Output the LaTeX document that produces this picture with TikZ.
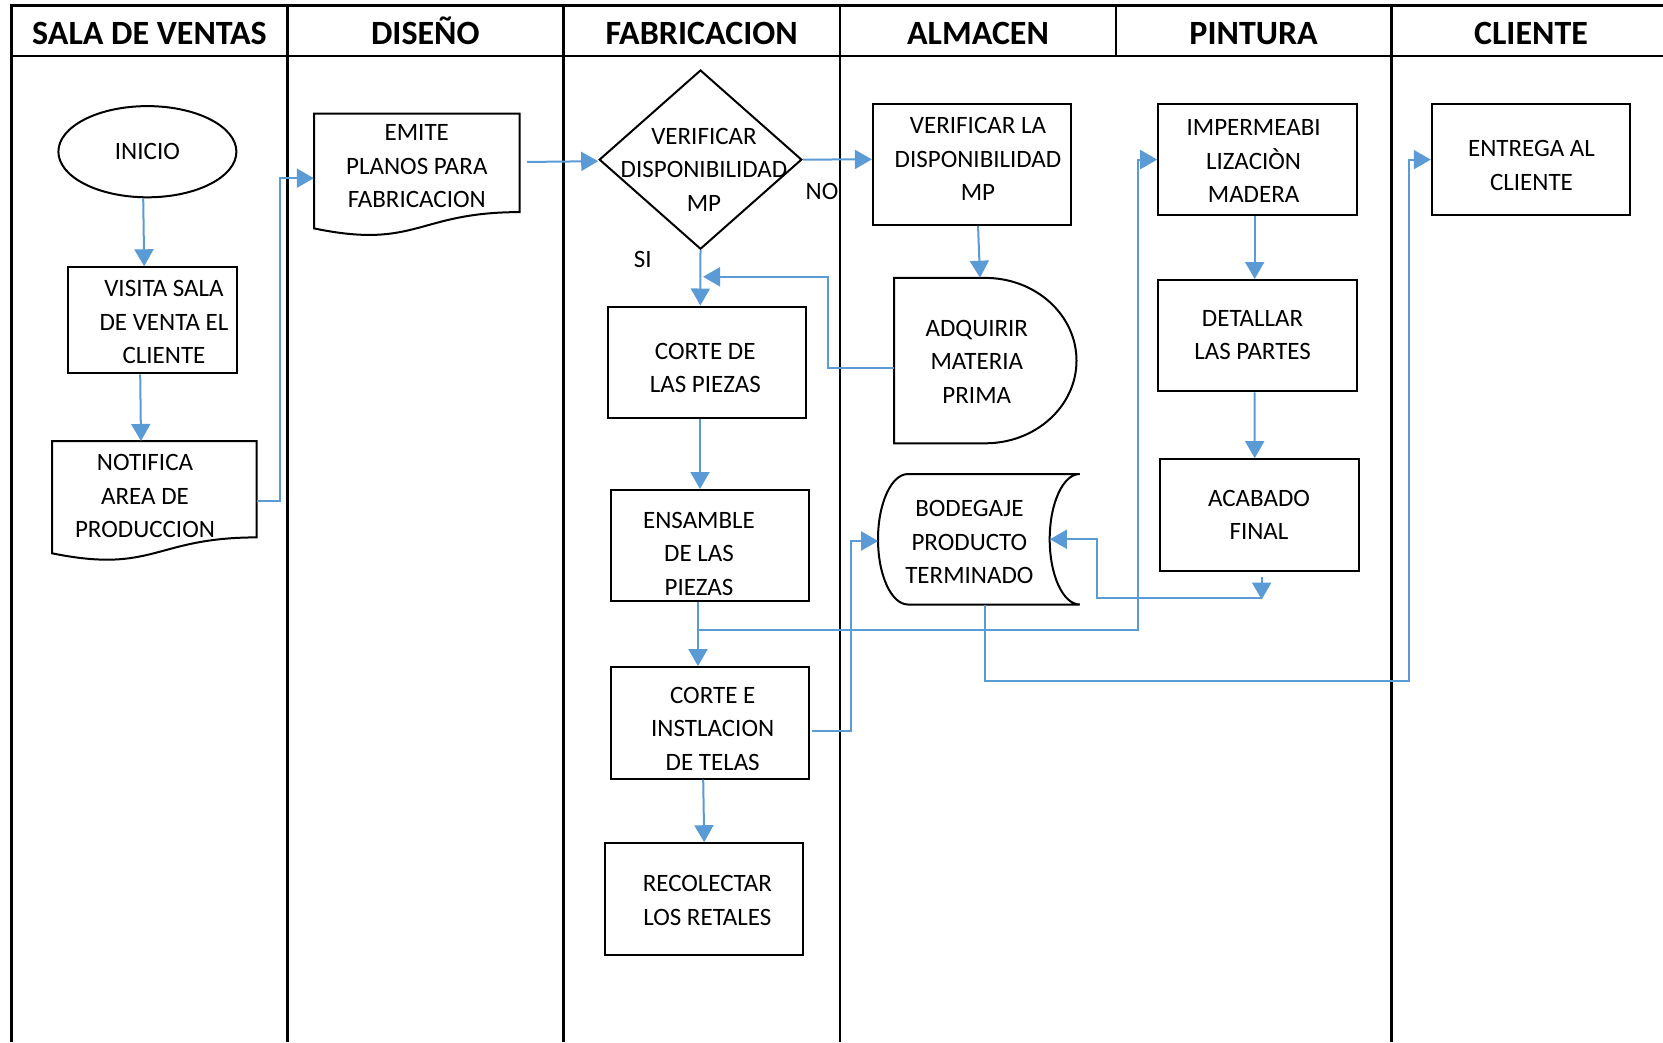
\documentclass[tikz,border=0pt]{standalone}
\usepackage{fontspec}
\setmainfont{Carlito}
\usetikzlibrary{arrows.meta,calc,shapes.geometric}
\definecolor{flowblue}{RGB}{91,155,213}
\begin{document}
\begin{tikzpicture}[x=1pt,y=-1pt,
  lane/.style={line width=2.6pt},
  box/.style={draw, line width=2pt, inner sep=0, rectangle},
  ghost/.style={inner sep=0, rectangle},
  outline/.style={line width=2pt, line join=miter},
  txt/.style={font=\fontsize{25}{33.5}\selectfont, align=center, inner sep=0},
  head/.style={font=\fontsize{34}{40}\selectfont\bfseries, inner sep=0, anchor=base},
  flow/.style={draw=flowblue, line width=2pt, -{Triangle[length=17pt,width=19pt]}},
  link/.style={draw=flowblue, line width=2pt}]

\useasboundingbox (0,0) rectangle (1663,1042);

% ---- swimlane grid ----
\draw[lane] (10.4,5.3) -- (1663,5.3);
\draw[lane] (10.4,56) -- (1663,56);
\foreach \x in {11.7,287.4,563.2,840,1391.5}
  \draw[lane] (\x,5.3) -- (\x,1042);
\draw[lane] (1115.8,5.3) -- (1115.8,56);

\node[head] (h1) at (149.5,44.5) {SALA DE VENTAS};
\node[head] (h2) at (425.3,44.5) {DISEÑO};
\node[head] (h3) at (701.6,44.5) {FABRICACION};
\node[head] (h4) at (978,44.5) {ALMACEN};
\node[head] (h5) at (1253.6,44.5) {PINTURA};
\node[head] (h6) at (1531,44.5) {CLIENTE};

% ---- sala de ventas ----
\node[draw, ellipse, line width=2pt, inner sep=0, minimum width=178pt, minimum height=91.2pt,
      font=\fontsize{25}{33.5}\selectfont] (inicio) at (147.4,151.7) {INICIO};
\node[box, minimum width=168.6pt, minimum height=106pt] (visita) at (152.2,320.3) {};
\node[txt] (tvisita) at (164,322.4) {VISITA SALA\\DE VENTA EL\\CLIENTE};

\node[ghost, minimum width=204.7pt, minimum height=112.1pt] (notif) at (154.35,497.25) {};
\draw[outline] (52,441.2) -- (256.7,441.2) -- (256.7,537.4)
  .. controls (154.35,537.4) and (154.35,574.1) .. (52,553.3) -- cycle;
\node[txt] (tnotif) at (145,496.4) {NOTIFICA\\AREA DE\\PRODUCCION};

% ---- diseno ----
\node[ghost, minimum width=205.7pt, minimum height=114.9pt] (emite) at (416.85,170.95) {};
\draw[outline] (314,113.5) -- (519.7,113.5) -- (519.7,212.1)
  .. controls (416.85,212.1) and (416.85,249.7) .. (314,228.4) -- cycle;
\node[txt] (temite) at (416.8,166.5) {EMITE\\PLANOS PARA\\FABRICACION};

% ---- fabricacion ----
\node[draw, diamond, line width=2pt, inner sep=0, minimum width=202.6pt, minimum height=179.2pt] (dia) at (700.5,159.6) {};
\node[txt] (tdia) at (704,169.7) {VERIFICAR\\DISPONIBILIDAD\\MP};
\node[txt] (no) at (822,191) {NO};
\node[txt] (si) at (642.7,259.8) {SI};

\node[box, minimum width=198.3pt, minimum height=111.4pt] (corted) at (706.85,362.2) {};
\node[txt] (tcorted) at (705.3,368) {CORTE DE\\LAS PIEZAS};
\node[box, minimum width=198.3pt, minimum height=111.4pt] (ensam) at (710.05,545.7) {};
\node[txt] (tensam) at (699,553.6) {ENSAMBLE\\DE LAS\\PIEZAS};
\node[box, minimum width=198.3pt, minimum height=111.4pt] (cortee) at (710.05,722.8) {};
\node[txt] (tcortee) at (712.7,728.6) {CORTE E\\INSTLACION\\DE TELAS};
\node[box, minimum width=198.4pt, minimum height=111.3pt] (recol) at (703.7,898.85) {};
\node[txt] (trecol) at (707.4,900.5) {RECOLECTAR\\LOS RETALES};

% ---- almacen ----
\node[box, minimum width=198.3pt, minimum height=120.9pt] (verif) at (972.05,164.35) {};
\node[txt] (tverif) at (978,159.1) {VERIFICAR LA\\DISPONIBILIDAD\\MP};

\node[ghost, minimum width=182.5pt, minimum height=165.4pt] (adq) at (985.25,360.6) {};
\draw[outline] (894,277.9) -- (985.25,277.9)
  arc[start angle=90, end angle=-90, x radius=91.25pt, y radius=82.7pt]
  -- (894,443.3) -- cycle;
\node[txt] (tadq) at (976.8,361.7) {ADQUIRIR\\MATERIA\\PRIMA};

\node[ghost, minimum width=201.7pt, minimum height=130.5pt] (bodeg) at (978.85,539.25) {};
\draw[outline] (908,474) -- (1079.7,474)
  arc[start angle=90, end angle=270, x radius=30pt, y radius=65.25pt]
  -- (908,604.5)
  arc[start angle=270, end angle=90, x radius=30pt, y radius=65.25pt];
\node[txt] (tbodeg) at (969.4,542) {BODEGAJE\\PRODUCTO\\TERMINADO};

% ---- pintura ----
\node[box, minimum width=198.3pt, minimum height=111.4pt] (imper) at (1257.35,159.6) {};
\node[txt] (timper) at (1253.6,161.2) {IMPERMEABI\\LIZACIÒN\\MADERA};
\node[box, minimum width=198.3pt, minimum height=111.4pt] (detal) at (1257.35,335.7) {};
\node[txt] (tdetal) at (1252.6,335.1) {DETALLAR\\LAS PARTES};
\node[box, minimum width=198.3pt, minimum height=111.4pt] (acab) at (1259.45,514.9) {};
\node[txt] (tacab) at (1259,515) {ACABADO\\FINAL};

% ---- cliente ----
\node[box, minimum width=198.3pt, minimum height=111.4pt] (entrega) at (1530.95,159.6) {};
\node[txt] (tentrega) at (1531.5,165.5) {ENTREGA AL\\CLIENTE};

% ---- connectors ----
\draw[flow] ($(inicio.south)+(-4.2,0)$) -- ($(visita.north)+(-8,0)$);
\draw[flow] ($(visita.south)+(-12,0)$) -- ($(notif.north)+(-13.35,0)$);
\draw[flow] ($(notif.east)+(0,3.35)$) -- ++(23.3,0) |- ($(emite.west)+(0,7.25)$);
\draw[flow] ($(emite.east)+(7.3,-9)$) -- ($(dia.west)+(0,1.6)$);
\draw[flow] (dia.east) -- ($(verif.west)+(0,-5)$);
\draw[flow] (dia.south) -- ($(corted.north)+(-6.5,0)$);
\coordinate (merge) at ($(dia.south)+(2.5,26.6)$);
\draw[flow] ($(adq.west)+(0,7.4)$) -- ++(-65.7,0) |- (merge);
\draw[flow] ($(verif.south)+(6,0)$) -- ($(adq.north)+(-5.25,0)$);
\draw[flow] ($(corted.south)+(-6.85,0)$) -- ($(ensam.north)+(-10.05,0)$);
\draw[flow] ($(ensam.south)+(-12.05,0)$) -- ($(cortee.north)+(-12.05,0)$);
\draw[flow] ($(cortee.south)+(-6.85,0)$) -- ($(recol.north)+(0.5,0)$);
\coordinate (split) at ($(ensam.south)+(-12.05,27.1)$);
\draw[flow] (split) -- ++(440,0) |- (imper.west);
\draw[flow] ($(imper.south)+(-2.65,0)$) -- ($(detal.north)+(-2.65,0)$);
\draw[flow] ($(detal.south)+(-2.65,0)$) -- ($(acab.north)+(-4.75,0)$);
\draw[flow] ($(cortee.east)+(2.2,8)$) -- ++(38.1,0) |- ($(bodeg.east)+(-201.7,1.75)$);
\draw[flow] ($(acab.south)+(2.2,5)$) -- ++(0,23);
\draw[flow] ($(acab.south)+(2.2,26)$) -- ++(-165,0) |- ($(bodeg.east)+(-30,0)$);
\draw[flow] ($(bodeg.south)+(6.45,0)$) -- ++(0,76.5) -- ++(423.2,0) |- (entrega.west);

\end{tikzpicture}
\end{document}
